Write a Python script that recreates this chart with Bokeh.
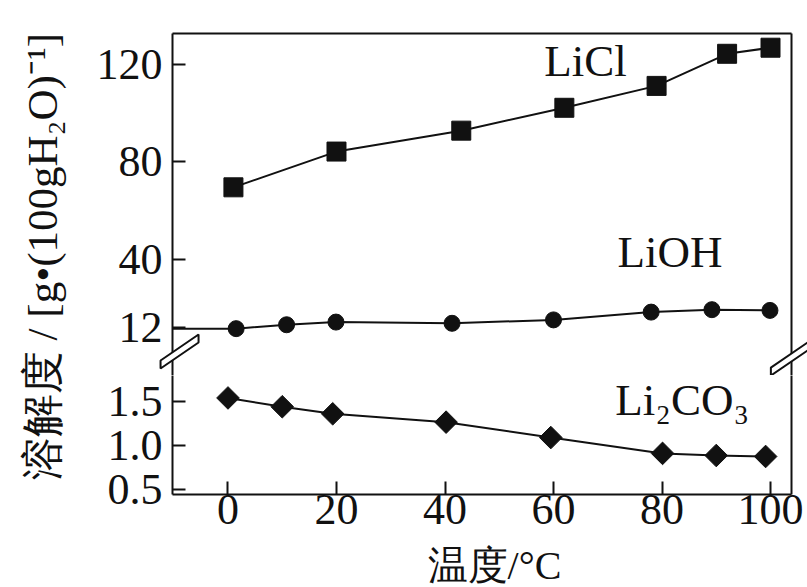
from math import pi
from bokeh.plotting import figure
from bokeh.models import Range1d, FixedTicker, LinearAxis, Label, NumeralTickFormatter
from bokeh.layouts import row, column
from bokeh.embed import file_html
from bokeh.resources import INLINE

# ---- data ----
temp_ticks = [0, 20, 40, 60, 80, 100]
upper_ticks = [12, 40, 80, 120]
lower_ticks = [0.5, 1.0, 1.5]

licl_t = [1, 20, 43, 62, 79, 92, 100]
licl_v = [69.5, 84.2, 92.8, 102.2, 111.2, 124.4, 126.9]

lioh_t = [1.5, 10.8, 19.9, 41.3, 60, 78, 89.2, 99.9]
lioh_v = [11.4, 13.0, 14.1, 13.6, 15.0, 18.2, 19.2, 18.9]

li2co3_t = [0, 10, 19.3, 40.2, 59.5, 80.1, 90, 99.1]
li2co3_v = [1.54, 1.44, 1.36, 1.265, 1.09, 0.91, 0.886, 0.875]

# ---- styling / layout ----
FONT = "Liberation Serif"
FS = "44px"
INK = "#111111"
X_MIN, X_MAX = -10.23, 103.87
UP_MIN, UP_MAX = -7.86, 132.74
LO_MIN, LO_MAX = 0.443, 1.795
FRAME_W = 619
UP_H = 342
LO_H = 119
LEFT_B = 84
RIGHT_B = 16
TOP_B = 33
BOT_B = 49
LAB_W = 88
XLAB_H = 587 - TOP_B - UP_H - LO_H - BOT_B
TOTAL_H = TOP_B + UP_H + LO_H + BOT_B + XLAB_H

xr = Range1d(X_MIN, X_MAX)


def style_axis(ax, ticks, labels=True):
    ax.ticker = FixedTicker(ticks=ticks, minor_ticks=[])
    ax.major_tick_in = 13
    ax.major_tick_out = 0
    ax.minor_tick_in = 0
    ax.minor_tick_out = 0
    ax.axis_line_width = 2
    ax.axis_line_color = INK
    ax.major_tick_line_width = 2
    ax.major_tick_line_color = INK
    ax.major_label_text_font = FONT
    ax.major_label_text_font_size = FS
    ax.major_label_text_color = INK
    if not labels:
        ax.major_label_text_font_size = "0px"


def base_fig(yr, fh, top, bottom):
    f = figure(frame_width=FRAME_W, frame_height=fh, x_range=xr, y_range=yr,
               output_backend="svg", toolbar_location=None,
               min_border_left=LEFT_B, min_border_right=RIGHT_B,
               min_border_top=top, min_border_bottom=bottom,
               x_axis_location=None, y_axis_location=None)
    f.grid.visible = False
    f.outline_line_color = None
    f.background_fill_color = "white"
    f.border_fill_color = "white"
    return f


def text_fig(w, h, left=0, right=0):
    f = figure(frame_width=w, frame_height=h, x_range=Range1d(0, w), y_range=Range1d(0, h),
               min_border=0, min_border_left=left, min_border_right=right,
               output_backend="svg", toolbar_location=None,
               x_axis_location=None, y_axis_location=None)
    f.grid.visible = False
    f.outline_line_color = None
    return f


def add_break(fig, cx, cy, yspan, fh):
    xpu = FRAME_W / (X_MAX - X_MIN)
    ypu = fh / yspan
    dx, dy, g = 19, 13, 8
    pts = [(-dx, -dy - g / 2), (dx, dy - g / 2), (dx, dy + g / 2), (-dx, -dy + g / 2)]
    xs = [cx + px / xpu for px, _ in pts]
    ys = [cy + py / ypu for _, py in pts]
    fig.patch(xs, ys, fill_color="white", fill_alpha=1, line_color=INK, line_width=2,
              level="overlay")


# ---- upper part: LiCl, LiOH ----
up = base_fig(Range1d(UP_MIN, UP_MAX), UP_H, TOP_B, 0)
ax = LinearAxis()
style_axis(ax, upper_ticks)
ax.major_label_standoff = 10
up.add_layout(ax, "left")
for side in ("above", "right"):
    a = LinearAxis()
    style_axis(a, [], labels=False)
    up.add_layout(a, side)

up.line(licl_t, licl_v, line_width=2, color=INK)
up.scatter(licl_t, licl_v, marker="square", size=19, color=INK)
up.segment(x0=[X_MIN], y0=[lioh_v[0]], x1=[lioh_t[0]], y1=[lioh_v[0]], line_width=2, color=INK)
up.line(lioh_t, lioh_v, line_width=2, color=INK)
up.scatter(lioh_t, lioh_v, marker="circle", size=16, color=INK)

up.add_layout(Label(x=58.3, y=121.5, text="LiCl", text_font=FONT, text_font_size="45px",
                    text_color=INK, text_align="left", text_baseline="alphabetic"))
up.add_layout(Label(x=71.8, y=43.0, text="LiOH", text_font=FONT, text_font_size="45px",
                    text_color=INK, text_align="left", text_baseline="alphabetic"))

add_break(up, X_MIN + 1.3, 2.0, UP_MAX - UP_MIN, UP_H)
add_break(up, X_MAX - 0.3, -0.9, UP_MAX - UP_MIN, UP_H)

# ---- lower part: Li2CO3 ----
lo = base_fig(Range1d(LO_MIN, LO_MAX), LO_H, 0, BOT_B)
ay = LinearAxis()
style_axis(ay, lower_ticks)
ay.formatter = NumeralTickFormatter(format="0.0")
ay.major_label_standoff = 10
lo.add_layout(ay, "left")
axb = LinearAxis()
style_axis(axb, temp_ticks)
axb.major_label_standoff = 0
lo.add_layout(axb, "below")
ar = LinearAxis()
style_axis(ar, [], labels=False)
lo.add_layout(ar, "right")

lo.line(li2co3_t, li2co3_v, line_width=2, color=INK)
lo.scatter(li2co3_t, li2co3_v, marker="square", angle=pi / 4, size=16, color=INK)

lo.add_layout(Label(x=71.4, y=1.52, text="Li\u2082CO\u2083", text_font=FONT, text_font_size="45px",
                    text_color=INK, text_align="left", text_baseline="alphabetic"))

# ---- x axis title (same frame as the plots above) ----
xlab = text_fig(FRAME_W, XLAB_H, LEFT_B, RIGHT_B)
xlab.add_layout(Label(x=322, y=XLAB_H / 2, text="温度/°C", text_font=FONT, text_font_size="40px",
                      text_color=INK, text_align="center", text_baseline="middle"))

# ---- y axis title ----
lab = text_fig(LAB_W, TOTAL_H)
lab.add_layout(Label(x=42, y=TOTAL_H - 256, text="溶解度 / [g•(100gH\u2082O)\u207b\u00b9]",
                     text_font=FONT, text_font_size="43px", text_color=INK, angle=pi / 2,
                     text_align="center", text_baseline="middle"))

layout = row(lab, column(up, lo, xlab, spacing=0), spacing=0)

open("out.html", "w").write(file_html(layout, INLINE))
